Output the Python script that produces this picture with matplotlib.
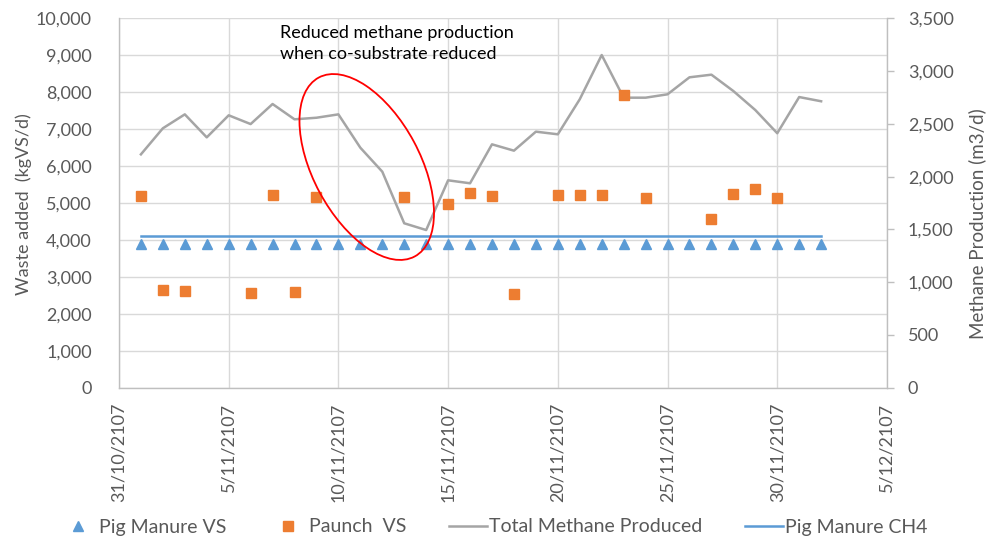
import matplotlib
matplotlib.use('Agg')
import matplotlib.pyplot as plt
import matplotlib.dates as mdates
from matplotlib.patches import Ellipse
from matplotlib.transforms import IdentityTransform
from matplotlib.lines import Line2D
from matplotlib.ticker import FuncFormatter
import datetime as dt

plt.rcParams['font.family'] = ['Lato', 'DejaVu Sans']

# ---------------- data ----------------
# daily series, 1/11/2107 .. 2/12/2107
series_dates = [dt.date(2107, 11, 1) + dt.timedelta(days=i) for i in range(32)]

pig_manure_vs = [3900, 3900, 3900, 3900, 3900, 3900, 3900, 3900,
                 3900, 3900, 3900, 3900, 3900, 3900, 3900, 3900,
                 3900, 3900, 3900, 3900, 3900, 3900, 3900, 3900,
                 3900, 3900, 3900, 3900, 3900, 3900, 3900, 3900]

total_methane = [2211, 2458, 2590, 2372, 2581, 2498, 2688, 2543,
                 2558, 2590, 2274, 2047, 1558, 1494, 1965, 1937,
                 2306, 2246, 2426, 2401, 2733, 3152, 2748, 2748,
                 2780, 2941, 2966, 2811, 2631, 2411, 2754, 2714]

pig_manure_ch4 = [1440, 1440, 1440, 1440, 1440, 1440, 1440, 1440,
                  1440, 1440, 1440, 1440, 1440, 1440, 1440, 1440,
                  1440, 1440, 1440, 1440, 1440, 1440, 1440, 1440,
                  1440, 1440, 1440, 1440, 1440, 1440, 1440, 1440]

paunch_dates = [dt.date(2107, 11, d) for d in
                [1, 2, 3, 6, 7, 8, 9, 13, 15, 16, 17, 18, 20, 21, 22, 23, 24, 27, 28, 29, 30]]
paunch_vs = [5200, 2650, 2620, 2570, 5220, 2590, 5160, 5160, 4980, 5280, 5190,
             2530, 5230, 5220, 5220, 7920, 5140, 4560, 5240, 5380, 5140]

x_tick_dates = [dt.date(2107, 10, 31), dt.date(2107, 11, 5), dt.date(2107, 11, 10),
                dt.date(2107, 11, 15), dt.date(2107, 11, 20), dt.date(2107, 11, 25),
                dt.date(2107, 11, 30), dt.date(2107, 12, 5)]
x_tick_labels = ["31/10/2107", "5/11/2107", "10/11/2107", "15/11/2107",
                 "20/11/2107", "25/11/2107", "30/11/2107", "5/12/2107"]
left_ticks = [0, 1000, 2000, 3000, 4000, 5000, 6000, 7000, 8000, 9000, 10000]
right_ticks = [0, 500, 1000, 1500, 2000, 2500, 3000, 3500]

# ---------------- style ----------------
TXT = '#595959'
GRID = '#D9D9D9'
SPINE = '#BFBFBF'
BLUE = '#5B9BD5'
ORANGE = '#ED7D31'
GRAY = '#A5A5A5'
FS = 13
LFS = 14

fig = plt.figure(figsize=(9.94, 5.37), dpi=100)
ax = fig.add_axes([0.1197, 0.278, 0.7726, 0.6879])
ax2 = ax.twinx()
ax3 = ax.twinx()

ax.set_xlim(dt.date(2107, 10, 31), dt.date(2107, 12, 5))
ax.set_ylim(0, 10000)
ax2.set_ylim(0, 3500)
ax3.set_ylim(0, 10000)

# grid and base axis
ax.set_axisbelow(True)
ax.grid(True, color=GRID, lw=1.0)
ax.set_xticks(x_tick_dates)
ax.set_xticklabels(x_tick_labels, rotation=90)
ax.set_yticks(left_ticks)
ax.yaxis.set_major_formatter(FuncFormatter(lambda v, p: f"{v:,.0f}"))
ax.tick_params(axis='y', length=0, pad=19.5, labelsize=FS, labelcolor=TXT)
ax.tick_params(axis='x', length=0, pad=11, labelsize=FS, labelcolor=TXT)
for s in ['top', 'right']:
    ax.spines[s].set_visible(False)
for s in ['left', 'bottom']:
    ax.spines[s].set_color(SPINE)
    ax.spines[s].set_linewidth(1.0)
ax.set_ylabel('Waste added  (kgVS/d)', fontsize=FS, color=TXT, va='center')
ax.yaxis.set_label_coords(-0.1237, 0.496)

# right axis: methane lines
ax2.plot(series_dates, total_methane, color=GRAY, lw=1.8, label='Total Methane Produced')
ax2.plot(series_dates, pig_manure_ch4, color=BLUE, lw=1.8, label='Pig Manure CH4')
ax2.set_yticks(right_ticks)
ax2.yaxis.set_major_formatter(FuncFormatter(lambda v, p: f"{v:,.0f}"))
ax2.tick_params(axis='y', length=5, width=1.0, color=SPINE, direction='out',
                pad=10, labelsize=FS, labelcolor=TXT)
for s in ['top', 'left', 'bottom']:
    ax2.spines[s].set_visible(False)
ax2.spines['right'].set_color(SPINE)
ax2.spines['right'].set_linewidth(1.0)
ax2.set_ylabel('Methane Production (m3/d)', fontsize=FS + 0.5, color=TXT, va='center')
ax2.yaxis.set_label_coords(1.1178, 0.445)

# top layer: markers
ax3.plot(series_dates, pig_manure_vs, ls='none', marker='^', ms=7, color=BLUE,
         mec=BLUE, label='Pig Manure VS')
ax3.plot(paunch_dates, paunch_vs, ls='none', marker='s', ms=7.5, color=ORANGE,
         mec=ORANGE, label='Paunch  VS')
ax3.yaxis.set_visible(False)
for s in ax3.spines.values():
    s.set_visible(False)

# annotation
fig.text(280 / 994, 1 - 43.3 / 537, 'Reduced methane production\nwhen co-substrate reduced',
         fontsize=FS, color='black', ha='left', va='center', linespacing=1.35)

cx, cy = ax.transData.transform((mdates.date2num(dt.datetime(2107, 11, 11, 7)), 5975))
ell = Ellipse((cx, cy), 203, 107, angle=-61.8, transform=IdentityTransform(),
              fill=False, ec='#FF0000', lw=1.3, zorder=5)
fig.add_artist(ell)

# legend
handles = [
    Line2D([], [], ls='none', marker='^', ms=7, color=BLUE),
    Line2D([], [], ls='none', marker='s', ms=7.5, color=ORANGE),
    Line2D([], [], color=GRAY, lw=1.8),
    Line2D([], [], color=BLUE, lw=1.8),
]
labels = ['Pig Manure VS', 'Paunch  VS', 'Total Methane Produced', 'Pig Manure CH4']
leg = fig.legend(handles, labels, loc='center', bbox_to_anchor=(493 / 994, 1 - 527 / 537),
                 ncol=4, frameon=False, fontsize=LFS, handlelength=1.95,
                 handletextpad=0.1, columnspacing=2.2, borderpad=0, borderaxespad=0)
for t in leg.get_texts():
    t.set_color(TXT)

fig.savefig('out.png', dpi=100)
